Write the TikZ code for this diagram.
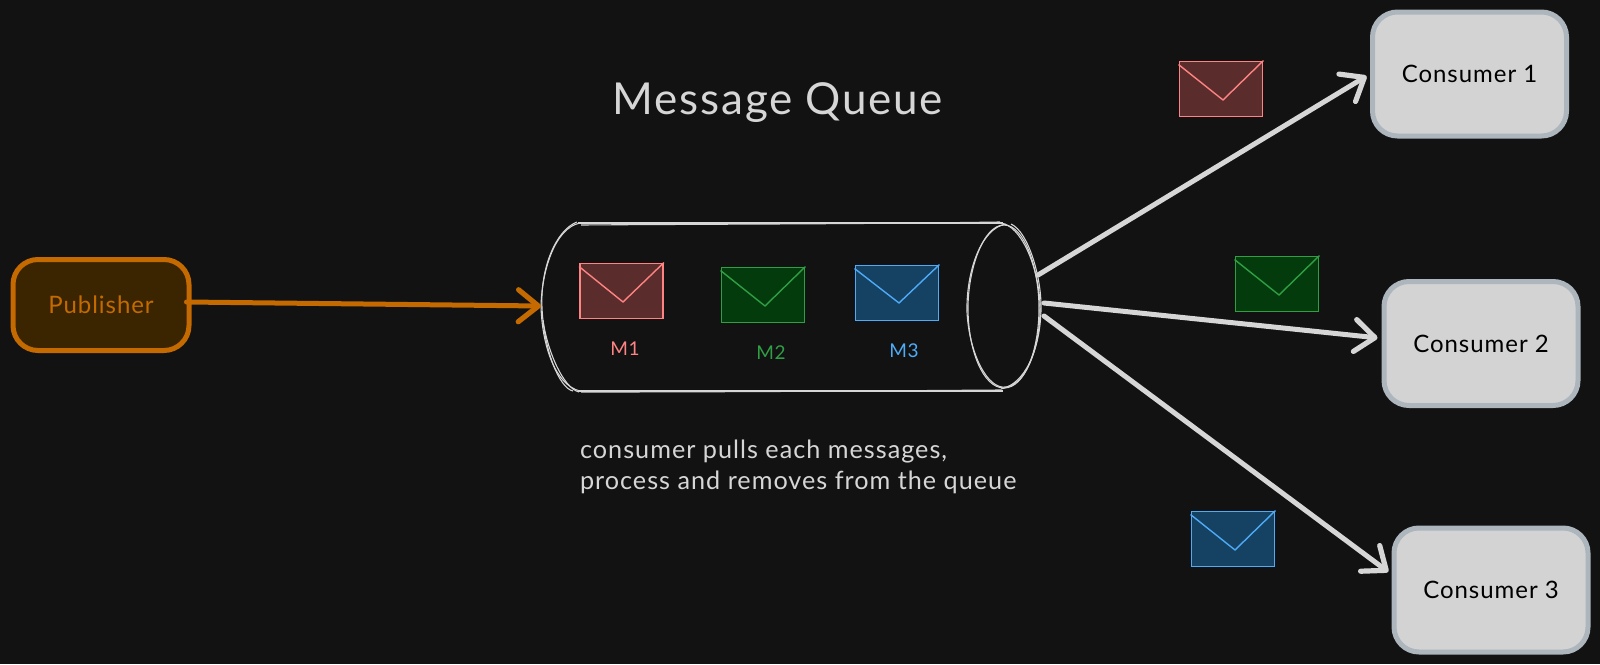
\documentclass[tikz,border=0pt]{standalone}
\usepackage{fontspec}
\setmainfont[LetterSpace=4]{Lato}
\usetikzlibrary{arrows.meta,calc}
\definecolor{bg}{HTML}{121212}
\definecolor{ink}{HTML}{D6D6D6}
\definecolor{redS}{HTML}{FF8383}\definecolor{redF}{HTML}{5B2C2C}
\definecolor{grnS}{HTML}{2F9E44}\definecolor{grnF}{HTML}{043B0C}
\definecolor{bluS}{HTML}{4DABF7}\definecolor{bluF}{HTML}{154163}
\definecolor{orgS}{HTML}{C46A00}\definecolor{orgF}{HTML}{3A2500}
\definecolor{conS}{HTML}{ADB5BD}\definecolor{conF}{HTML}{D3D3D3}
\tikzset{
  x=0.5pt,y=-0.5pt,
  box/.style={draw,rounded corners=12.5pt,line width=2.5pt,inner sep=0pt,anchor=center},
  consumer/.style={box,draw=conS,fill=conF,text=black,minimum width=97pt,minimum height=62pt,font=\fontsize{12}{14}\selectfont},
  envelope/.style={draw=#1S,fill=#1F,line width=0.95pt,minimum width=41.5pt,minimum height=27.5pt,inner sep=0pt},
  flap/.style={draw=#1S,line width=0.7pt,line join=round},
  sketch/.style={draw=ink,line width=0.55pt},
  link/.style={draw=ink,line width=2.5pt,line cap=round,-{Straight Barb[length=10pt,width=16pt,line width=2.6pt,round]},shorten >=2pt},
  pubarrow/.style={link,draw=orgS,shorten >=0pt},
  msg/.style={font=\fontsize{9.5}{11}\selectfont,text=#1S},
}
\begin{document}
\begin{tikzpicture}
\useasboundingbox[fill=bg] (0,0) rectangle (1600,664);
% title
\node[text=ink,font=\fontsize{22}{26}\selectfont] (title) at (778,103) {Message Queue};
% publisher
\node[box,draw=orgS,fill=orgF,text=orgS,minimum width=88pt,minimum height=45.5pt,font=\fontsize{12}{14}\selectfont] (pub) at (101,305) {Publisher};
% consumers
\node[consumer] (c1) at (1469.5,74) {Consumer 1};
\node[consumer] (c2) at (1481,343.5) {Consumer 2};
\node[consumer] (c3) at (1491,590) {Consumer 3};
% queue: sketched cylinder
\draw[sketch] (580,223) .. controls (555,228) and (542,270) .. (541,306) .. controls (542,345) and (555,385) .. (580,391);
\draw[sketch] (577,222) .. controls (556,230) and (540,268) .. (542,308) .. controls (544,350) and (559,388) .. (573,391);
\draw[sketch] (579,392) .. controls (563,388) and (547,350) .. (543,320);
\draw[sketch] (578,223) -- (1003,223);
\draw[sketch] (581,225) .. controls (720,224) and (870,224) .. (1000,222);
\draw[sketch] (578,391) -- (1003,391);
\draw[sketch] (581,392) .. controls (720,392) and (870,391) .. (1001,390);
\draw[sketch] (1004,225) .. controls (983,225) and (968,270) .. (968,308) .. controls (968,350) and (983,388) .. (1004,388) .. controls (1025,388) and (1039,350) .. (1039,308) .. controls (1039,270) and (1025,225) .. (1004,225);
\draw[sketch] (1006,224) .. controls (981,228) and (966,272) .. (967,312) .. controls (969,352) and (987,390) .. (1006,387) .. controls (1027,384) and (1041,345) .. (1040,304) .. controls (1038,265) and (1021,226) .. (1001,223);
\draw[sketch] (1011,224) .. controls (1029,232) and (1042,280) .. (1041,310) .. controls (1040,350) and (1025,384) .. (1001,389);
\coordinate (qin) at (541,306);
\coordinate (qout1) at (1038,275);
\coordinate (qout2) at (1044,303);
\coordinate (qout3) at (1044,316);
% envelopes in the queue
\node[envelope=red] (m1) at (621.5,291) {};
\draw[flap=red] (m1.north west) ++(0,4) -- (623,302) -- (m1.north east);
\node[envelope=grn] (m2) at (763,295) {};
\draw[flap=grn] (m2.north west) ++(0,4) -- (765,306) -- (m2.north east);
\node[envelope=blu] (m3) at (897,293) {};
\draw[flap=blu] (m3.north west) ++(0,4) -- (899,303) -- (m3.north east);
\node[msg=red] (l1) at (625,349) {M1};
\node[msg=grn] (l2) at (771,353) {M2};
\node[msg=blu] (l3) at (904,351) {M3};
% note
\node[text=ink,anchor=west,align=left,font=\fontsize{12.6}{15.4}\selectfont] (note) at (573,467) {consumer pulls each messages,\\process and removes from the queue};
% envelopes outside
\node[envelope=red] (e1) at (1221,89) {};
\draw[flap=red] (e1.north west) ++(0,4) -- (1223,100) -- (e1.north east);
\node[envelope=grn] (e2) at (1277,284) {};
\draw[flap=grn] (e2.north west) ++(0,4) -- (1279,295) -- (e2.north east);
\node[envelope=blu] (e3) at (1233,539) {};
\draw[flap=blu] (e3.north west) ++(0,4) -- (1235,550) -- (e3.north east);
% connectors
\draw[pubarrow] ($(pub.east)+(-5,-3)$) -- (qin);
\draw[link] (qout1) -- (c1.west);
\draw[link] (qout2) -- (c2.177);
\draw[link] (qout3) -- (c3.171);
\end{tikzpicture}
\end{document}
